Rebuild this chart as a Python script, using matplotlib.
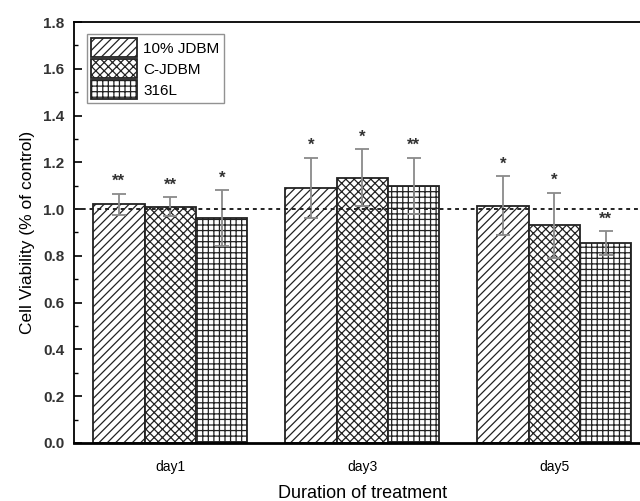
import numpy as np
import matplotlib
matplotlib.use("Agg")
import matplotlib.pyplot as plt

plt.rcParams['font.family'] = ['Liberation Sans', 'DejaVu Sans']
plt.rcParams['hatch.linewidth'] = 0.9
plt.rcParams['hatch.color'] = '#444444'

days = ['day1', 'day3', 'day5']
series = ['10% JDBM', 'C-JDBM', '316L']
means = [[1.02, 1.09, 1.015],
         [1.01, 1.135, 0.93],
         [0.96, 1.10, 0.855]]
errs = [[0.045, 0.13, 0.125],
        [0.04, 0.12, 0.14],
        [0.12, 0.12, 0.05]]
stars = [['**', '*', '*'],
         ['**', '*', '*'],
         ['*', '**', '**']]
hatches = ['////', 'xxxx', '+++']

fig = plt.figure(figsize=(6.4, 5.01), dpi=100)
ax = fig.add_axes([0.116, 0.116, 0.9, 0.840])

x = np.arange(1, len(days) + 1)
w = 0.268
for i, name in enumerate(series):
    pos = x + (i - 1) * w
    ax.bar(pos, means[i], w, color='white', edgecolor='#222222',
           linewidth=1.3, hatch=hatches[i], label=name, zorder=2)
    ax.errorbar(pos, means[i], yerr=errs[i], fmt='none', ecolor='#8a8a8a',
                elinewidth=1.3, capsize=5, capthick=1.3, zorder=3)
    for p, m, e, s in zip(pos, means[i], errs[i], stars[i]):
        ax.text(p, m + e + 0.02, s, ha='center', va='bottom',
                fontsize=12, fontweight='bold', color='#333333')

# reference level at 100 %
ax.axhline(1.0, color='#222222', linestyle=(0, (2, 2)), linewidth=1.4, zorder=4)

ax.set_xlim(0.5, 3.5)
ax.set_ylim(0, 1.8)
ax.set_yticks(np.arange(0, 1.81, 0.2))
ax.set_yticks(np.arange(0.1, 1.8, 0.2), minor=True)
ax.set_xticks(x)
ax.set_xticklabels(days)
ax.tick_params(axis='y', which='major', direction='in', length=6, width=1.2,
               labelsize=11, pad=7)
ax.tick_params(axis='y', which='minor', direction='in', length=3, width=1.0)
ax.tick_params(axis='x', length=0, labelsize=10, pad=12)
for lab in ax.get_yticklabels():
    lab.set_fontweight('bold')
    lab.set_color('#333333')
for sp in ax.spines.values():
    sp.set_linewidth(1.3)
ax.spines['bottom'].set_linewidth(2.0)

ax.set_ylabel('Cell Viability (% of control)', fontsize=12.5, labelpad=6)
ax.set_xlabel('Duration of treatment', fontsize=13, labelpad=8)

leg = ax.legend(loc='upper left', bbox_to_anchor=(0.022, 0.972), fontsize=11,
                frameon=True, fancybox=False, edgecolor='#777777',
                handlelength=3.0, handleheight=1.5, handletextpad=0.4,
                borderpad=0.3, labelspacing=0.15, borderaxespad=0.0)
leg.get_frame().set_linewidth(1.0)

fig.savefig('out.png', dpi=100)
